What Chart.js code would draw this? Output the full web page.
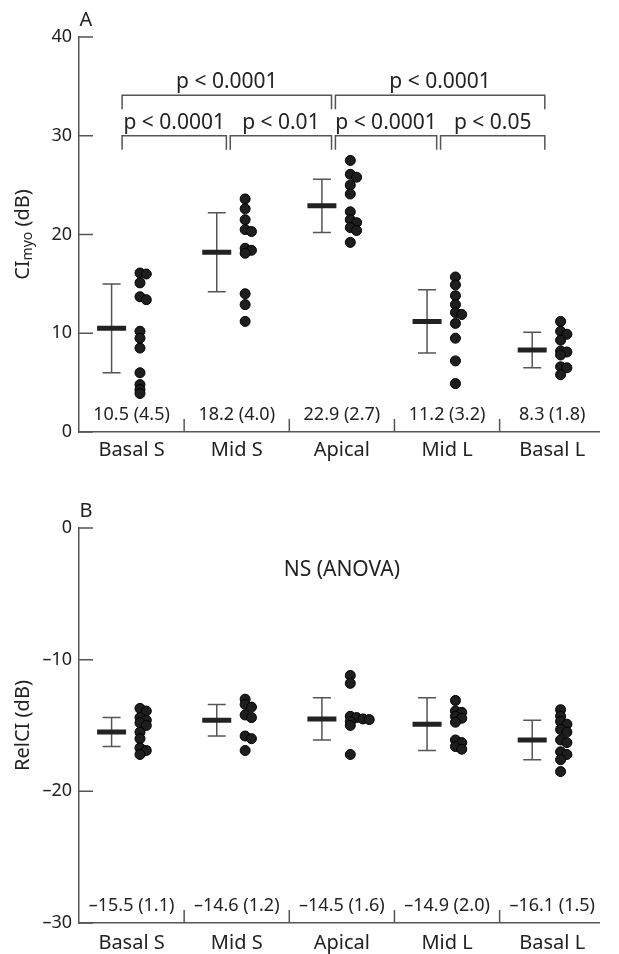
<!DOCTYPE html>
<html>
<head>
<meta charset="utf-8">
<script src="https://cdn.jsdelivr.net/npm/chart.js@4.4.0/dist/chart.umd.min.js"></script>
<style>
body { margin: 0; background: #fff; }
canvas { display: block; }
</style>
</head>
<body>
<canvas id="chartA" width="619" height="477"></canvas>
<canvas id="chartB" width="619" height="477"></canvas>
<script>
var categories = ["Basal S", "Mid S", "Apical", "Mid L", "Basal L"];

// panel A - CImyo (dB)
var ciMeans = [10.5, 18.2, 22.9, 11.2, 8.3];
var ciSDs = [4.5, 4.0, 2.7, 3.2, 1.8];
var ciDots = [
    [16.1, 16.0, 15.1, 13.7, 13.4, 10.2, 9.5, 8.5, 6.0, 4.8, 4.3, 3.9],
    [23.6, 22.6, 21.5, 20.5, 20.3, 18.6, 18.4, 18.1, 14.0, 12.9, 11.2],
    [27.5, 26.1, 25.8, 25.0, 24.1, 22.3, 21.5, 21.2, 20.7, 20.4, 19.2],
    [15.7, 14.9, 13.8, 12.9, 12.1, 11.9, 11.0, 9.5, 7.2, 4.9],
    [11.2, 10.2, 9.9, 9.3, 8.2, 8.1, 7.8, 6.6, 6.5, 5.8]
];
var ciTicks = [0, 10, 20, 30, 40];
var ciBrackets = [
    {from: 0, to: 2, label: "p < 0.0001", row: 1},
    {from: 2, to: 4, label: "p < 0.0001", row: 1},
    {from: 0, to: 1, label: "p < 0.0001", row: 0},
    {from: 1, to: 2, label: "p < 0.01", row: 0},
    {from: 2, to: 3, label: "p < 0.0001", row: 0},
    {from: 3, to: 4, label: "p < 0.05", row: 0}
];

// panel B - RelCI (dB)
var relMeans = [-15.5, -14.6, -14.5, -14.9, -16.1];
var relSDs = [1.1, 1.2, 1.6, 2.0, 1.5];
var relDots = [
    [-13.7, -13.9, -14.4, -14.6, -14.8, -15.0, -15.5, -16.0, -16.7, -16.9, -17.2],
    [-13.0, -13.4, -13.6, -14.2, -14.4, -15.8, -16.0, -16.9],
    [-11.2, -11.8, -14.3, -14.4, -14.5, -14.55, -14.7, -15.0, -17.2],
    [-13.1, -13.9, -14.0, -14.3, -14.45, -14.75, -16.1, -16.3, -16.6, -16.8],
    [-13.8, -14.3, -14.7, -14.9, -15.3, -15.5, -16.1, -16.3, -17.0, -17.2, -17.6, -18.5]
];
var relTicks = [-30, -20, -10, 0];

Chart.defaults.font.family = '"Noto Sans", sans-serif';
Chart.defaults.color = '#222';

function fmt(v) {
    return v.toFixed(1).replace('-', '\u2013');
}

// put overlapping dots side by side
function swarm(vals, gap) {
    var lanes = [];
    return vals.map(function (v) {
        var k = 0;
        while (lanes[k] && lanes[k].some(function (u) { return Math.abs(u - v) < gap; })) k++;
        (lanes[k] = lanes[k] || []).push(v);
        return k;
    });
}

function makePanel(id, o) {
    var dots = [];
    o.dots.forEach(function (vals, i) {
        var lane = swarm(vals, o.gap);
        vals.forEach(function (v, j) {
            dots.push({x: i + 0.08 + lane[j] * 0.06, y: v});
        });
    });
    var means = o.means.map(function (m, i) { return {x: i - 0.19, y: m}; });

    var extras = {
        id: 'extras',
        beforeDatasetsDraw: function (chart) {
            var ctx = chart.ctx, xs = chart.scales.x, ys = chart.scales.y;
            ctx.save();
            ctx.strokeStyle = '#555';
            ctx.lineWidth = 1.5;
            o.means.forEach(function (m, i) {
                var x = xs.getPixelForValue(i - 0.19);
                var top = ys.getPixelForValue(m + o.sds[i]);
                var bot = ys.getPixelForValue(m - o.sds[i]);
                ctx.beginPath();
                ctx.moveTo(x, top); ctx.lineTo(x, bot);
                ctx.moveTo(x - 9, top); ctx.lineTo(x + 9, top);
                ctx.moveTo(x - 9, bot); ctx.lineTo(x + 9, bot);
                ctx.stroke();
            });
            ctx.restore();
        },
        afterDraw: function (chart) {
            var ctx = chart.ctx, xs = chart.scales.x, ys = chart.scales.y, a = chart.chartArea;
            ctx.save();
            ctx.strokeStyle = '#555';
            ctx.lineWidth = 1.5;
            ctx.beginPath();
            o.ticks.forEach(function (v) {
                var y = ys.getPixelForValue(v);
                ctx.moveTo(a.left, y); ctx.lineTo(a.left + 14, y);
            });
            for (var i = 0; i < categories.length - 1; i++) {
                var x = xs.getPixelForValue(i + 0.5);
                ctx.moveTo(x, a.bottom); ctx.lineTo(x, a.bottom - 13);
            }
            ctx.stroke();

            ctx.fillStyle = '#222';
            ctx.textAlign = 'center';
            ctx.textBaseline = 'middle';
            ctx.font = '18px "Noto Sans"';
            o.means.forEach(function (m, i) {
                ctx.fillText(fmt(m) + ' (' + o.sds[i].toFixed(1) + ')', xs.getPixelForValue(i), a.bottom - 17);
            });

            ctx.font = '20px "Noto Sans"';
            ctx.fillText(o.panel, a.left + 7, a.top - 17);

            // brackets
            ctx.strokeStyle = '#555';
            ctx.font = '21px "Noto Sans"';
            (o.brackets || []).forEach(function (b) {
                var l = xs.getPixelForValue(b.from - 0.09) + (b.from > 0 ? 3 : 0);
                var r = xs.getPixelForValue(b.to - 0.07) - (b.to < 4 ? 3 : 0);
                var y = ys.getPixelForValue(30 + b.row * 4.1);
                ctx.beginPath();
                ctx.moveTo(l, y + 14); ctx.lineTo(l, y); ctx.lineTo(r, y); ctx.lineTo(r, y + 14);
                ctx.stroke();
                ctx.fillText(b.label, (l + r) / 2, y - 13);
            });

            if (o.note) {
                ctx.fillText(o.note.text, xs.getPixelForValue(o.note.x), ys.getPixelForValue(o.note.y));
            }

            // y title, with subscript parts
            var cy = (a.top + a.bottom) / 2;
            ctx.translate(23, cy);
            ctx.rotate(-Math.PI / 2);
            ctx.textAlign = 'left';
            var w = 0;
            o.title.forEach(function (p) {
                ctx.font = p[1] + 'px "Noto Sans"';
                w += ctx.measureText(p[0]).width;
            });
            var pos = -w / 2;
            o.title.forEach(function (p) {
                ctx.font = p[1] + 'px "Noto Sans"';
                ctx.fillText(p[0], pos, p[2]);
                pos += ctx.measureText(p[0]).width;
            });
            ctx.restore();
        }
    };

    return new Chart(document.getElementById(id), {
        type: 'scatter',
        data: {
            datasets: [{
                data: means,
                pointStyle: 'line',
                pointRadius: 14.5,
                borderWidth: 5,
                borderColor: '#222'
            }, {
                data: dots,
                pointRadius: 5,
                backgroundColor: '#1e1e1e',
                borderColor: '#000',
                borderWidth: 1
            }]
        },
        options: {
            responsive: false,
            animation: false,
            layout: {padding: {top: o.top, left: 0, right: 0, bottom: 0}},
            plugins: {legend: {display: false}, tooltip: {enabled: false}},
            scales: {
                x: {
                    type: 'linear',
                    min: -0.5,
                    max: 4.45,
                    grid: {display: false, drawTicks: false},
                    border: {color: '#555', width: 1.5},
                    afterBuildTicks: function (s) {
                        s.ticks = categories.map(function (c, i) { return {value: i}; });
                    },
                    afterFit: function (s) { s.height = o.xh; },
                    ticks: {
                        padding: o.xpad,
                        font: {size: 20},
                        color: '#222',
                        maxRotation: 0,
                        autoSkip: false,
                        callback: function (v) { return categories[v]; }
                    }
                },
                y: {
                    min: o.min,
                    max: o.max,
                    grid: {display: false, drawTicks: false},
                    border: {color: '#555', width: 1.5},
                    afterBuildTicks: function (s) {
                        s.ticks = o.ticks.map(function (v) { return {value: v}; });
                    },
                    afterFit: function (s) { s.width = 79; },
                    ticks: {
                        padding: 7,
                        font: {size: 18},
                        color: '#222',
                        callback: function (v) { return String(v).replace('-', '\u2013'); }
                    }
                }
            }
        },
        plugins: [extras]
    });
}

makePanel('chartA', {
    panel: 'A', means: ciMeans, sds: ciSDs, dots: ciDots, ticks: ciTicks,
    min: 0, max: 40, gap: 0.38, top: 37, xh: 45, xpad: 6,
    brackets: ciBrackets,
    title: [['CI', 20, 0], ['myo', 14, 5], [' (dB)', 20, 0]]
});

makePanel('chartB', {
    panel: 'B', means: relMeans, sds: relSDs, dots: relDots, ticks: relTicks,
    min: -30, max: 0, gap: 0.28, top: 51, xh: 31, xpad: 8,
    note: {text: 'NS (ANOVA)', x: 2, y: -3.2},
    title: [['RelCI (dB)', 20, 0]]
});
</script>
</body>
</html>
